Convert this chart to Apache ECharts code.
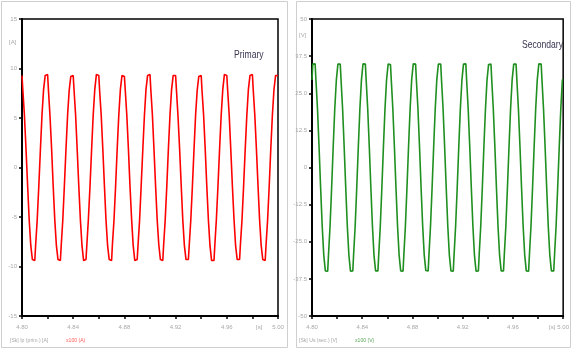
<!DOCTYPE html>
<html>
<head>
<meta charset="utf-8">
<script src="https://cdn.jsdelivr.net/npm/echarts@6/dist/echarts.min.js"></script>
<style>
  html, body { margin: 0; padding: 0; background: #fff; }
  #chart { width: 572px; height: 351px; }
</style>
</head>
<body>
<div id="chart"></div>
<script>
// sampling of the recorded waveforms (16 samples per 50 Hz cycle)
var tStart = 4.80;
var tStep = 0.00125;

// primary current [A], one row per cycle
var primaryA = [
  9.3, 7.9, 5.3, 1.9, -1.8, -5.3, -7.9, -9.3, -9.4, -7.9, -5.3, -1.9, 1.8, 5.3, 7.9, 9.3,
  9.4, 7.9, 5.2, 1.9, -1.9, -5.3, -7.9, -9.3, -9.4, -7.9, -5.3, -1.8, 1.9, 5.3, 7.8, 9.2,
  9.3, 7.9, 5.3, 1.8, -1.9, -5.3, -7.9, -9.4, -9.3, -7.9, -5.2, -1.9, 1.8, 5.3, 7.9, 9.4,
  9.3, 7.8, 5.3, 1.9, -1.8, -5.3, -7.9, -9.3, -9.4, -7.8, -5.3, -1.9, 1.9, 5.3, 7.9, 9.3,
  9.2, 7.9, 5.3, 1.9, -1.9, -5.2, -7.9, -9.4, -9.3, -7.9, -5.3, -1.8, 1.8, 5.2, 7.9, 9.3,
  9.4, 7.9, 5.3, 1.8, -1.9, -5.3, -7.8, -9.3, -9.4, -7.9, -5.3, -1.9, 1.9, 5.3, 7.9, 9.3,
  9.3, 7.9, 5.2, 1.9, -1.8, -5.3, -7.9, -9.3, -9.3, -7.9, -5.3, -1.9, 1.8, 5.3, 7.8, 9.2,
  9.3, 7.8, 5.3, 1.9, -1.9, -5.3, -7.9, -9.4, -9.4, -7.9, -5.2, -1.8, 1.9, 5.3, 7.9, 9.4,
  9.3, 7.9, 5.3, 1.8, -1.9, -5.2, -7.9, -9.3, -9.3, -7.8, -5.3, -1.9, 1.8, 5.2, 7.9, 9.3,
  9.4, 7.9, 5.3, 1.9, -1.8, -5.3, -7.9, -9.3, -9.4, -7.9, -5.3, -1.9, 1.9, 5.3, 7.9, 9.3,
  9.3
];

// secondary voltage [V], one row per cycle
var secondaryV = [
  29.5, 34.8, 34.9, 29.5, 19.7, 6.9, -6.9, -19.7, -29.5, -34.8, -34.9, -29.5, -19.7, -6.9, 6.9, 19.7,
  29.4, 34.8, 34.8, 29.6, 19.7, 6.8, -6.9, -19.8, -29.5, -34.9, -34.8, -29.4, -19.7, -6.9, 6.8, 19.7,
  29.5, 34.9, 34.8, 29.5, 19.6, 6.9, -6.8, -19.7, -29.6, -34.8, -34.8, -29.5, -19.8, -6.9, 6.9, 19.8,
  29.5, 34.8, 34.7, 29.5, 19.7, 6.9, -6.9, -19.7, -29.5, -34.8, -34.9, -29.6, -19.7, -6.8, 6.9, 19.7,
  29.6, 34.9, 34.8, 29.4, 19.7, 6.9, -6.9, -19.6, -29.5, -34.7, -34.8, -29.5, -19.7, -6.9, 6.8, 19.7,
  29.5, 34.8, 34.8, 29.5, 19.8, 6.9, -6.8, -19.7, -29.5, -34.8, -34.9, -29.5, -19.6, -6.9, 6.9, 19.7,
  29.4, 34.8, 34.9, 29.5, 19.7, 6.8, -6.9, -19.7, -29.6, -34.9, -34.8, -29.4, -19.7, -6.9, 6.9, 19.6,
  29.5, 34.7, 34.8, 29.5, 19.7, 6.9, -6.9, -19.8, -29.5, -34.8, -34.8, -29.5, -19.7, -6.8, 6.9, 19.7,
  29.5, 34.8, 34.8, 29.6, 19.7, 6.9, -6.9, -19.7, -29.4, -34.8, -34.9, -29.5, -19.8, -6.9, 6.8, 19.7,
  29.5, 34.9, 34.8, 29.5, 19.6, 6.9, -6.8, -19.7, -29.5, -34.8, -34.8, -29.6, -19.7, -6.9, 6.9, 19.8,
  29.5
];

function withTime(values) {
  return values.map(function (v, i) { return [tStart + i * tStep, v]; });
}

var narrow = 'Liberation Sans Narrow, Liberation Sans, sans-serif';
var labelStyle = { fontSize: 6, color: '#a8a8a8', fontFamily: narrow };

function xAxisFor(gridIndex) {
  return {
    type: 'value', gridIndex: gridIndex, min: 4.80, max: 5.00, interval: 0.02,
    splitLine: { show: false },
    axisLine: { show: true, onZero: false, lineStyle: { color: '#000', width: 2 } },
    axisTick: { show: true, length: 3, lineStyle: { color: '#000', width: 1.5 } },
    axisLabel: Object.assign({}, labelStyle, {
      margin: 8,
      formatter: function (v) {
        var n = Math.round(v * 100);
        return (n % 4 === 0) ? (n / 100).toFixed(2) : '';
      }
    })
  };
}

function yAxisFor(gridIndex, lim, step, fmt) {
  return {
    type: 'value', gridIndex: gridIndex, min: -lim, max: lim, interval: step,
    splitLine: { show: false },
    axisLine: { show: true, onZero: false, lineStyle: { color: '#000', width: 2 } },
    axisTick: { show: true, length: 3, lineStyle: { color: '#000', width: 1.5 } },
    axisLabel: Object.assign({}, labelStyle, { margin: 5, formatter: fmt })
  };
}

var chart = echarts.init(document.getElementById('chart'));
var option = {
  animation: false,
  backgroundColor: '#fff',
  grid: [
    { left: 22, right: 294, top: 19, bottom: 35, show: true, borderColor: '#000', borderWidth: 1.5, backgroundColor: '#fff' },
    { left: 312, right: 2, top: 19, bottom: 35, show: true, borderColor: '#000', borderWidth: 1.5, backgroundColor: '#fff' }
  ],
  xAxis: [xAxisFor(0), xAxisFor(1)],
  yAxis: [
    yAxisFor(0, 15, 5, function (v) { return String(v); }),
    yAxisFor(1, 50, 12.5, function (v) {
      return (v === 0 || Math.abs(v) === 50) ? String(v) : v.toFixed(1);
    })
  ],
  series: [
    {
      name: 'Primary', type: 'line', xAxisIndex: 0, yAxisIndex: 0,
      step: 'middle', showSymbol: false, clip: true,
      lineStyle: { color: '#ff0000', width: 1.6 },
      data: withTime(primaryA)
    },
    {
      name: 'Secondary', type: 'line', xAxisIndex: 1, yAxisIndex: 1,
      step: 'middle', showSymbol: false, clip: true,
      lineStyle: { color: '#1f8f1f', width: 1.6 },
      data: withTime(secondaryV)
    }
  ],
  graphic: [
    // panel frames
    { type: 'rect', shape: { x: 1.5, y: 1.5, width: 286, height: 346 }, style: { fill: null, stroke: '#cfcfcf', lineWidth: 1 }, z: -1 },
    { type: 'rect', shape: { x: 296.5, y: 1.5, width: 274, height: 346 }, style: { fill: null, stroke: '#cfcfcf', lineWidth: 1 }, z: -1 },
    // titles (condensed face)
    { type: 'text', x: 234, y: 49, scaleX: 0.78, style: { text: 'Primary', fontSize: 11, fill: '#3a3550', fontFamily: narrow }, z: 10 },
    { type: 'text', x: 522, y: 39, scaleX: 0.78, style: { text: 'Secondary', fontSize: 11, fill: '#3a3550', fontFamily: narrow }, z: 10 },
    // unit labels
    { type: 'text', x: 9, y: 39, style: { text: '[A]', fontSize: 6, fill: '#a8a8a8' } },
    { type: 'text', x: 299, y: 32, style: { text: '[V]', fontSize: 6, fill: '#a8a8a8' } },
    { type: 'text', x: 256, y: 324, style: { text: '[s]', fontSize: 6, fill: '#a8a8a8' } },
    { type: 'text', x: 549, y: 324, style: { text: '[s]', fontSize: 6, fill: '#a8a8a8' } },
    // footers
    { type: 'text', x: 10, y: 337, scaleX: 0.85, style: { text: '[Sk] Ip (prim.) [A] ', fontSize: 6, fill: '#a8a8a8' } },
    { type: 'text', x: 66, y: 337, scaleX: 0.85, style: { text: 'x100 (A)', fontSize: 6, fill: '#ff5a5a' } },
    { type: 'text', x: 299, y: 337, scaleX: 0.85, style: { text: '[Sk] Us (sec.) [V] ', fontSize: 6, fill: '#a8a8a8' } },
    { type: 'text', x: 355, y: 337, scaleX: 0.85, style: { text: 'x100 (V)', fontSize: 6, fill: '#5aa85a' } }
  ]
};
chart.setOption(option);
</script>
</body>
</html>
